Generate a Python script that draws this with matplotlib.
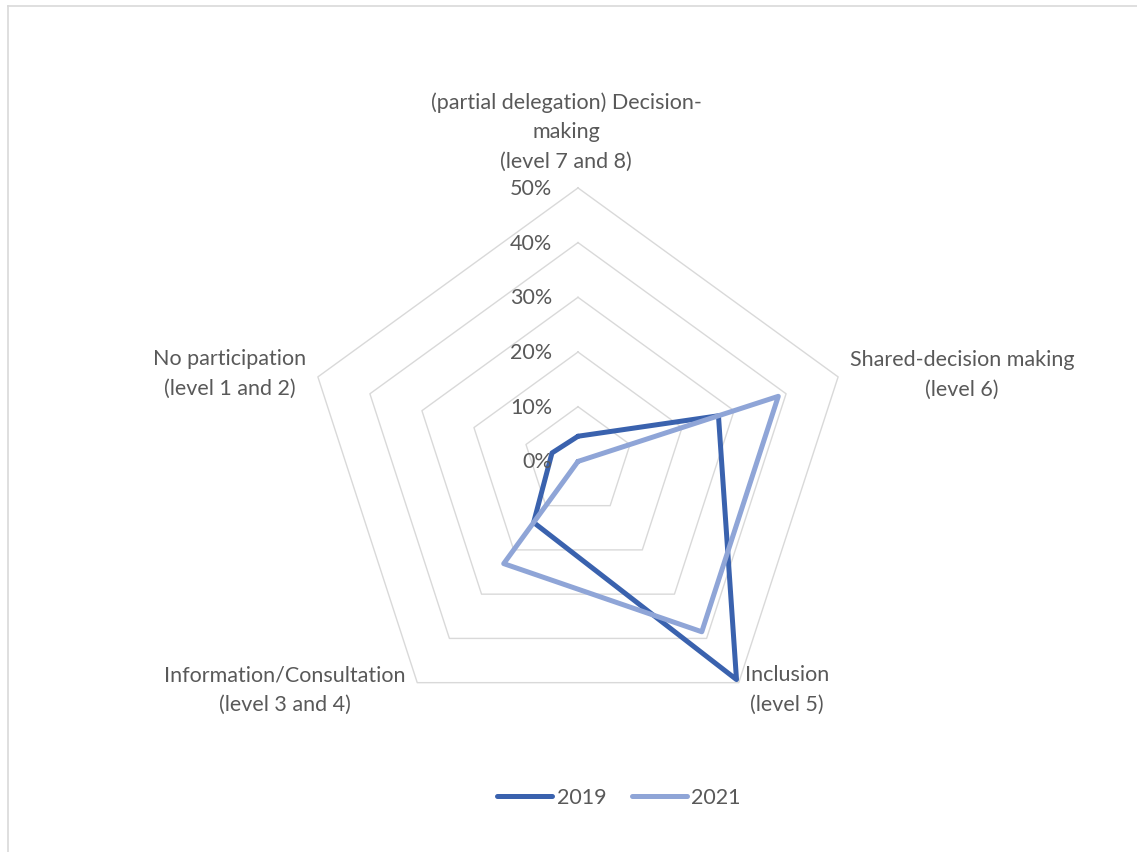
# -*- coding: utf-8 -*-
import matplotlib
matplotlib.use('Agg')
import matplotlib.pyplot as plt
from matplotlib.lines import Line2D
import numpy as np

categories = ['(partial delegation) Decision-\nmaking\n(level 7 and 8)',
			  'Shared-decision making\n(level 6)',
			  'Inclusion\n(level 5)',
			  'Information/Consultation\n(level 3 and 4)',
			  'No participation\n(level 1 and 2)']
years = ['2019', '2021']
share_2019 = [4.6, 27.0, 49.3, 13.8, 5.0]
share_2021 = [0.0, 38.5, 38.5, 23.1, 0.0]
r_ticks = [0, 10, 20, 30, 40, 50]

W, H = 1137, 852
TEXT = '#595959'
GRID = '#D9D9D9'
COLORS = ['#3A62AE', '#8FA5D7']
FS = 15.5


def fx(px):
	return px / W


def fy(py):
	return 1 - py / H


def main():
	plt.rcParams['font.family'] = ['Lato', 'DejaVu Sans']
	fig = plt.figure(figsize=(W / 100, H / 100), dpi=100)

	# chart border (top and left edges only show)
	fig.add_artist(Line2D([fx(8), 1], [fy(6), fy(6)], color=GRID, lw=1.2))
	fig.add_artist(Line2D([fx(8), fx(8)], [fy(6), 0], color=GRID, lw=1.2))

	cx, cy, rad = 578, 461.4, 273.5
	ax = fig.add_axes([fx(cx - rad), fy(cy + rad), 2 * rad / W, 2 * rad / H],
					  projection='polar')
	ax.set_theta_offset(np.pi / 2)
	ax.set_theta_direction(-1)
	ax.set_ylim(0, 50)
	ax.grid(False)
	ax.set_xticks([])
	ax.set_yticks([])
	ax.spines['polar'].set_visible(False)
	ax.patch.set_alpha(0)

	n = len(categories)
	theta = np.linspace(0, 2 * np.pi, n, endpoint=False)
	theta_c = np.append(theta, theta[0])

	# pentagon gridlines
	for v in r_ticks[1:]:
		ax.plot(theta_c, [v] * (n + 1), color=GRID, lw=1.0, clip_on=False, zorder=1)

	for vals, name, col in zip([share_2019, share_2021], years, COLORS):
		ax.plot(theta_c, vals + vals[:1], color=col, lw=3.6, label=name,
				solid_joinstyle='round', solid_capstyle='round',
				clip_on=False, zorder=3)

	for v in r_ticks:
		ax.annotate('%d%%' % v, xy=(0, v), xytext=(-26, -1),
					textcoords='offset pixels', ha='right', va='center',
					fontsize=FS, color=TEXT)

	# axis category labels
	label_pos = [(566, 132), (962, 375), (787, 690), (285, 690), (230, 374)]
	for lab, (x, y) in zip(categories, label_pos):
		fig.text(fx(x), fy(y), lab, ha='center', va='center', fontsize=FS,
				 color=TEXT, linespacing=1.6)

	leg = fig.legend(loc='center', bbox_to_anchor=(fx(619), fy(798)), ncol=2,
					 frameon=False, fontsize=FS, handlelength=2.55,
					 handletextpad=0.2, columnspacing=1.2)
	for t in leg.get_texts():
		t.set_color(TEXT)

	fig.savefig('out.png', dpi=100, facecolor='white')


if __name__ == "__main__":
	main()
